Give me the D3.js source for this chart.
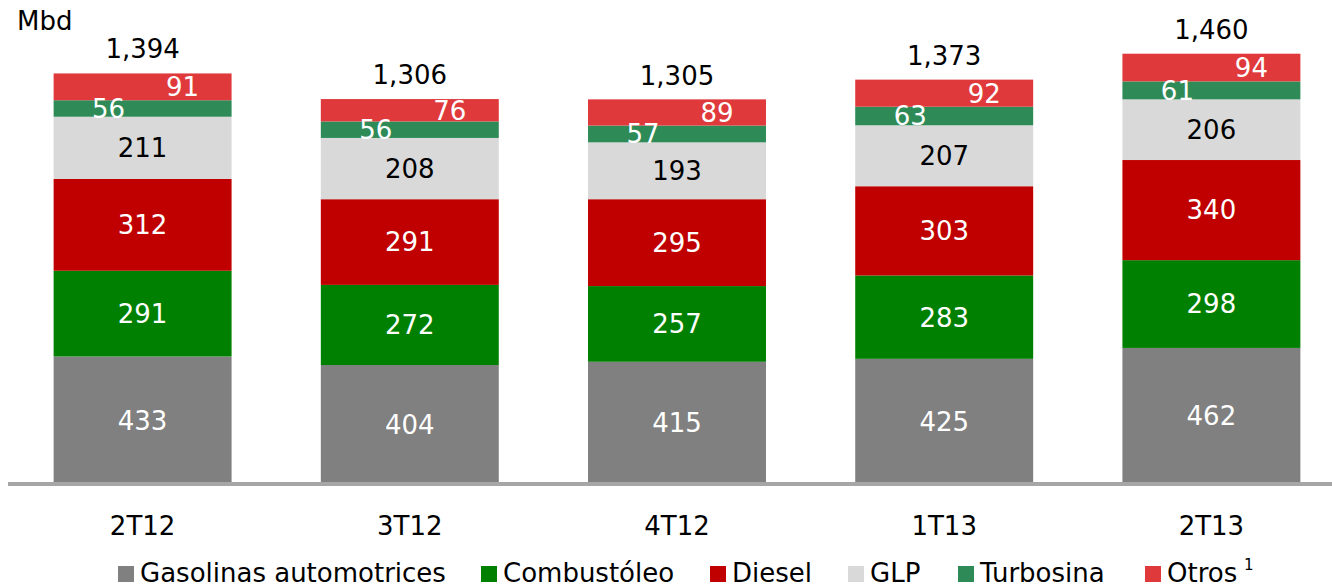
<!DOCTYPE html>
<html>
<head>
<meta charset="utf-8">
<script src="https://cdn.jsdelivr.net/npm/d3@7"></script>
<style>
  body { margin: 0; background: #fff; }
  svg { display: block; font-family: "DejaVu Sans", sans-serif; }
</style>
</head>
<body>
<div id="chart"></div>
<script>
// chart data
const categories = ['2T12', '3T12', '4T12', '1T13', '2T13'];
const seriesNames = ['Gasolinas automotrices', 'Combustóleo', 'Diesel', 'GLP', 'Turbosina', 'Otros'];
const gasolinas = [433, 404, 415, 425, 462];
const combustoleo = [291, 272, 257, 283, 298];
const diesel = [312, 291, 295, 303, 340];
const glp = [211, 208, 193, 207, 206];
const turbosina = [56, 56, 57, 63, 61];
const otros = [91, 76, 89, 92, 94];
const totals = [1394, 1306, 1305, 1373, 1460];

const colors = ['#808080', '#008000', '#c00000', '#d9d9d9', '#2e8b57', '#e0393b'];
const labelColors = ['#fff', '#fff', '#fff', '#000', '#fff', '#fff'];

const width = 1332, height = 587;
const baseY = 484;

const rows = categories.map((c, i) => ({
  cat: c,
  'Gasolinas automotrices': gasolinas[i],
  'Combustóleo': combustoleo[i],
  'Diesel': diesel[i],
  'GLP': glp[i],
  'Turbosina': turbosina[i],
  'Otros': otros[i]
}));

const stack = d3.stack().keys(seriesNames)(rows);

const svg = d3.select('#chart').append('svg')
  .attr('width', width)
  .attr('height', height);

const x = d3.scaleBand()
  .domain(categories)
  .range([9, 1345])
  .paddingInner(0.334)
  .paddingOuter(0.167);

const y = d3.scaleLinear()
  .domain([0, 1460])
  .range([baseY, 54]);

// bars
const layers = svg.append('g').selectAll('g')
  .data(stack)
  .join('g')
  .attr('fill', (d, i) => colors[i]);

layers.selectAll('rect')
  .data(d => d)
  .join('rect')
  .attr('x', d => x(d.data.cat))
  .attr('width', x.bandwidth())
  .attr('y', d => y(d[1]))
  .attr('height', d => y(d[0]) - y(d[1]));

// segment labels
const fs = 26;
stack.forEach((layer, li) => {
  let dx = 0;
  if (layer.key === 'Otros') dx = 40;
  if (layer.key === 'Turbosina') dx = -34;
  svg.append('g').selectAll('text')
    .data(layer)
    .join('text')
    .attr('x', d => x(d.data.cat) + x.bandwidth() / 2 + dx)
    .attr('y', d => (y(d[0]) + y(d[1])) / 2)
    .attr('dy', '0.36em')
    .attr('text-anchor', 'middle')
    .attr('font-size', fs)
    .attr('fill', labelColors[li])
    .text(d => d[1] - d[0]);
});

// totals
svg.append('g').selectAll('text')
  .data(categories)
  .join('text')
  .attr('x', d => x(d) + x.bandwidth() / 2)
  .attr('y', (d, i) => y(totals[i]) - 15)
  .attr('text-anchor', 'middle')
  .attr('font-size', fs)
  .attr('fill', '#000')
  .text((d, i) => d3.format(',')(totals[i]));

// baseline
svg.append('line')
  .attr('x1', 8).attr('x2', width)
  .attr('y1', baseY).attr('y2', baseY)
  .attr('stroke', '#a6a6a6')
  .attr('stroke-width', 4);

// category axis
const xAxis = svg.append('g')
  .attr('transform', `translate(0,${baseY})`)
  .call(d3.axisBottom(x).tickSize(0).tickPadding(33));
xAxis.select('.domain').remove();
xAxis.selectAll('text')
  .attr('font-family', '"DejaVu Sans", sans-serif')
  .attr('font-size', fs)
  .attr('fill', '#000');

// unit label
svg.append('text')
  .attr('x', 17).attr('y', 30)
  .attr('font-size', fs)
  .text('Mbd');

// legend
const legendX = [118, 481, 710, 848, 958, 1145];
const legend = svg.append('g').selectAll('g')
  .data(seriesNames)
  .join('g')
  .attr('transform', (d, i) => `translate(${legendX[i]},566)`);
legend.append('rect')
  .attr('width', 16).attr('height', 16)
  .attr('fill', (d, i) => colors[i]);
legend.append('text')
  .attr('x', 22).attr('y', 16)
  .attr('font-size', fs)
  .text(d => d);
svg.append('text')
  .attr('x', 1244).attr('y', 570)
  .attr('font-size', 15)
  .text('1');
</script>
</body>
</html>
